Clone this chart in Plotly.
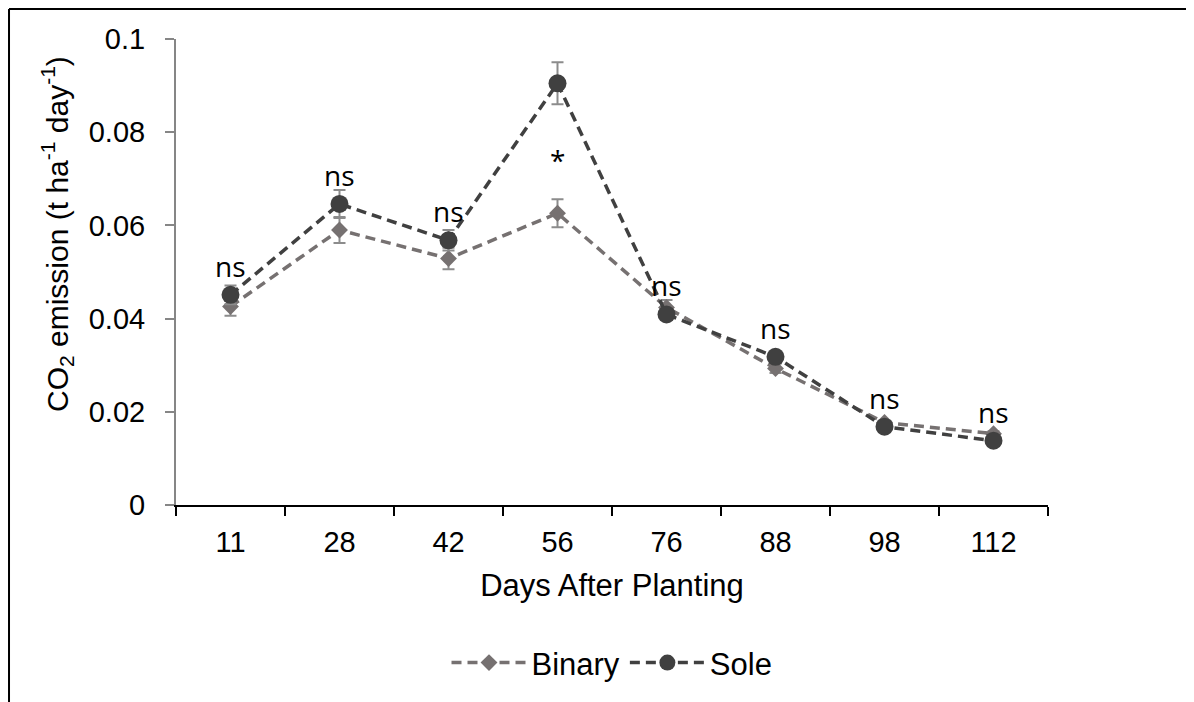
"""CO2 emission over days after planting, binary vs sole cropping."""

import plotly.graph_objects as go

# data
days = ["11", "28", "42", "56", "76", "88", "98", "112"]
binary = [0.0426, 0.0590, 0.0529, 0.0626, 0.0424, 0.0293, 0.0177, 0.0153]
binary_err = [0.0020, 0.0028, 0.0023, 0.0030, 0.0016, 0.0010, 0.0005, 0.0005]
sole = [0.0451, 0.0646, 0.0568, 0.0905, 0.0409, 0.0318, 0.0168, 0.0138]
sole_err = [0.0020, 0.0030, 0.0022, 0.0045, 0.0012, 0.0008, 0.0005, 0.0005]
signif = ["ns", "ns", "ns", "*", "ns", "ns", "ns", "ns"]

BINARY_COLOR = "#767171"
SOLE_COLOR = "#404040"
ERR_COLOR = "#8c8c8c"
AXIS_FONT = "Arial, Liberation Sans, sans-serif"
LABEL_FONT = "Open Sans, Noto Sans, sans-serif"

fig = go.Figure()
fig.add_trace(
    go.Scatter(
        x=days,
        y=binary,
        name="Binary",
        mode="lines+markers",
        line=dict(color=BINARY_COLOR, width=3.5, dash="10px,6px"),
        marker=dict(symbol="diamond", size=13, color=BINARY_COLOR),
        error_y=dict(type="data", array=binary_err, color=ERR_COLOR, thickness=2, width=6),
    )
)
fig.add_trace(
    go.Scatter(
        x=days,
        y=sole,
        name="Sole",
        mode="lines+markers",
        line=dict(color=SOLE_COLOR, width=3.5, dash="10px,6px"),
        marker=dict(symbol="circle", size=18, color=SOLE_COLOR),
        error_y=dict(type="data", array=sole_err, color=ERR_COLOR, thickness=2, width=6),
    )
)

# significance labels (x given as category index)
for i, (b, s, lab) in enumerate(zip(binary, sole, signif)):
    if lab == "ns":
        fig.add_annotation(
            x=i, y=s, text=lab, showarrow=False, yanchor="middle", yshift=29,
            font=dict(family=LABEL_FONT, size=28, color="black"),
        )
    else:
        fig.add_annotation(
            x=i, y=(b + s) / 2, text=lab, showarrow=False, yanchor="middle", yshift=-12,
            font=dict(family=LABEL_FONT, size=28, color="black"),
        )

# y axis title placed by hand (Excel offsets it from the axis centre)
fig.add_annotation(
    xref="paper", yref="paper", x=-0.1365, y=0.5815,
    text="CO<sub>2</sub> emission (t ha<sup>-1</sup> day<sup>-1</sup>)",
    textangle=-90, showarrow=False, xanchor="center", yanchor="middle",
    font=dict(family=AXIS_FONT, size=30, color="black"),
)

# chart frame (top and left edges visible in the original)
fig.add_shape(type="line", xref="paper", yref="paper", x0=-0.1915, x1=1.2, y0=1.0644, y1=1.0644,
              line=dict(color="black", width=2))
fig.add_shape(type="line", xref="paper", yref="paper", x0=-0.1915, x1=-0.1915, y0=1.0644, y1=-0.45,
              line=dict(color="black", width=2))

# the page body adds an 8 px offset, so the figure is 8 px smaller than the window
fig.update_layout(
    width=1186,
    height=694,
    paper_bgcolor="white",
    plot_bgcolor="white",
    margin=dict(l=168, r=146, t=31, b=197),
    font=dict(family=AXIS_FONT, size=29, color="black"),
    showlegend=True,
    legend=dict(
        orientation="h", x=0.5, xanchor="center", y=-0.339, yanchor="middle",
        font=dict(family=AXIS_FONT, size=31, color="black"),
        itemwidth=75, traceorder="normal",
    ),
)
fig.update_xaxes(
    type="category",
    range=[-0.5, len(days) - 0.5],
    tickson="boundaries",
    ticks="outside", ticklen=9, tickwidth=2, tickcolor="black",
    showline=True, linecolor="black", linewidth=2,
    showgrid=False, zeroline=False,
    tickangle=0,
    tickfont=dict(family=AXIS_FONT, size=29, color="black"),
    ticklabelstandoff=10,
    title=dict(text="Days After Planting", standoff=18,
               font=dict(family=AXIS_FONT, size=31, color="black")),
)
fig.update_yaxes(
    range=[0, 0.1],
    dtick=0.02,
    tickformat="~g",
    ticks="outside", ticklen=9, tickwidth=2, tickcolor="#868686",
    showline=True, linecolor="#868686", linewidth=2,
    showgrid=False, zeroline=False,
    tickfont=dict(family=AXIS_FONT, size=29, color="black"),
    ticklabelstandoff=14,
)

fig.write_html("out.html")
